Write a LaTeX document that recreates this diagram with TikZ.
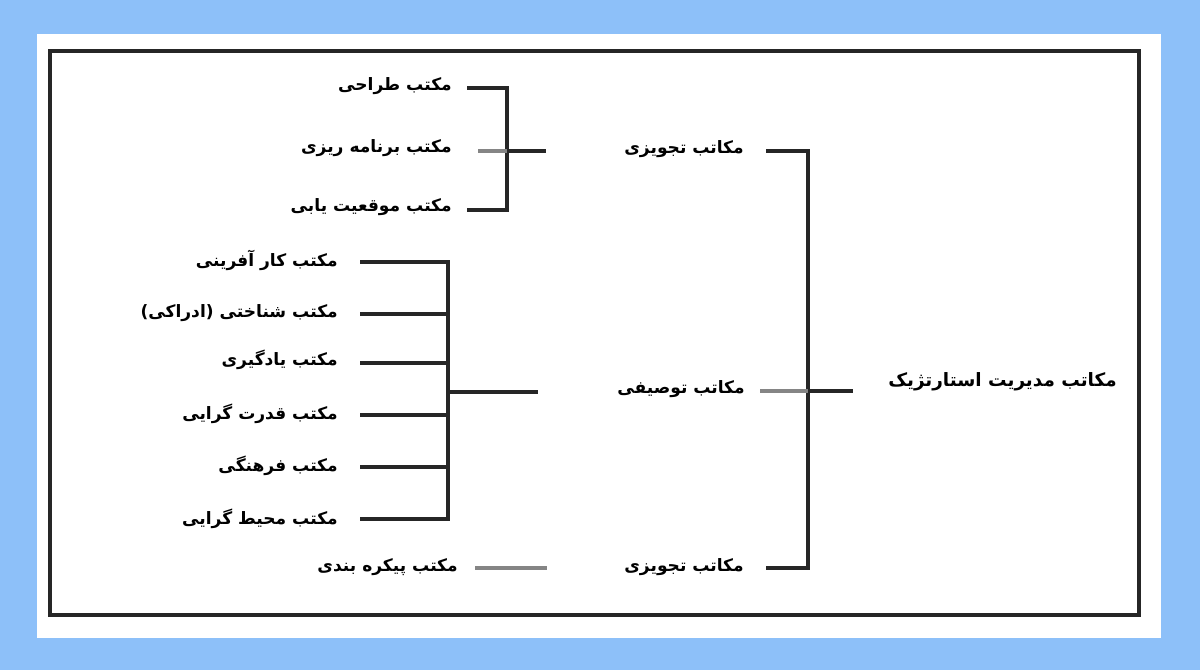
\documentclass[tikz,border=0pt]{standalone}
\usepackage{fontspec}
\newfontfamily\arabicfont[Script=Arabic]{DejaVu Sans}
\TeXXeTstate=1
\newcommand\artxt[1]{\arabicfont\bfseries\beginR #1\endR}
\definecolor{bgblue}{HTML}{8DC0F9}
\definecolor{lngray}{HTML}{858585}
\tikzset{
  lbl/.style={anchor=east, inner sep=0pt, font=\fontsize{12.8}{15}\selectfont},
  ln/.style={line width=2.3pt, draw=black!85},
  gln/.style={line width=2.3pt, draw=lngray},
  frame/.style={line width=2.3pt, draw=black!85}
}
\begin{document}
\begin{tikzpicture}[x=0.75pt,y=-0.75pt]
\useasboundingbox (0,0) rectangle (1200,670);
\fill[bgblue] (0,0) rectangle (1200,670);
\fill[white] (37,34) rectangle (1161,638);
\draw[frame] (50,51) rectangle (1139,615);

% top group
\node[lbl] (a1t) at (452,86) {\artxt{مکتب طراحی}};
\node[lbl] (a2t) at (452,148) {\artxt{مکتب برنامه ریزی}};
\node[lbl] (a3t) at (452,207) {\artxt{مکتب موقعیت یابی}};
\coordinate (a1) at (467,88);
\coordinate (a2) at (478,151);
\coordinate (a3) at (467,210);
\coordinate (ja) at (507,151);
\coordinate (ao) at (546,151);
\draw[ln] (a1) -| (ja) |- (a3);
\draw[gln] (a2) -- (ja);
\draw[ln] (ja) -- (ao);

% middle group
\node[lbl] (b1t) at (338,260) {\artxt{مکتب کار آفرینی}};
\node[lbl] (b2t) at (338,313) {\artxt{مکتب شناختی (ادراکی)}};
\node[lbl] (b3t) at (338,360) {\artxt{مکتب یادگیری}};
\node[lbl] (b4t) at (338,414) {\artxt{مکتب قدرت گرایی}};
\node[lbl] (b5t) at (338,466) {\artxt{مکتب فرهنگی}};
\node[lbl] (b6t) at (338,519) {\artxt{مکتب محیط گرایی}};
\coordinate (b1) at (360,262);
\coordinate (b2) at (360,314);
\coordinate (b3) at (360,363);
\coordinate (b4) at (360,415);
\coordinate (b5) at (360,467);
\coordinate (b6) at (360,519);
\coordinate (jb) at (448,392);
\coordinate (bo) at (538,392);
\draw[ln] (b1) -| (jb) |- (b6);
\foreach \k in {b2,b3,b4,b5} \draw[ln] (\k) -- (\k -| jb);
\draw[ln] (jb) -- (bo);

% bottom single
\node[lbl] (c1t) at (458,567) {\artxt{مکتب پیکره بندی}};
\coordinate (c1) at (475,568);
\coordinate (co) at (547,568);
\draw[gln] (c1) -- (co);

% right column
\node[lbl] (r1t) at (744,149) {\artxt{مکاتب تجویزی}};
\node[lbl] (r2t) at (745,389) {\artxt{مکاتب توصیفی}};
\node[lbl] (r3t) at (744,567) {\artxt{مکاتب تجویزی}};
\coordinate (r1) at (766,151);
\coordinate (r2) at (760,391);
\coordinate (r3) at (766,568);
\coordinate (jr) at (808,391);
\coordinate (ro) at (853,391);
\draw[ln] (r1) -| (jr) |- (r3);
\draw[gln] (r2) -- (jr);
\draw[ln] (jr) -- (ro);

% title
\node[lbl, font=\fontsize{13.8}{16}\selectfont] (title) at (1117,382) {\artxt{مکاتب مدیریت استارتژیک}};
\end{tikzpicture}
\end{document}
